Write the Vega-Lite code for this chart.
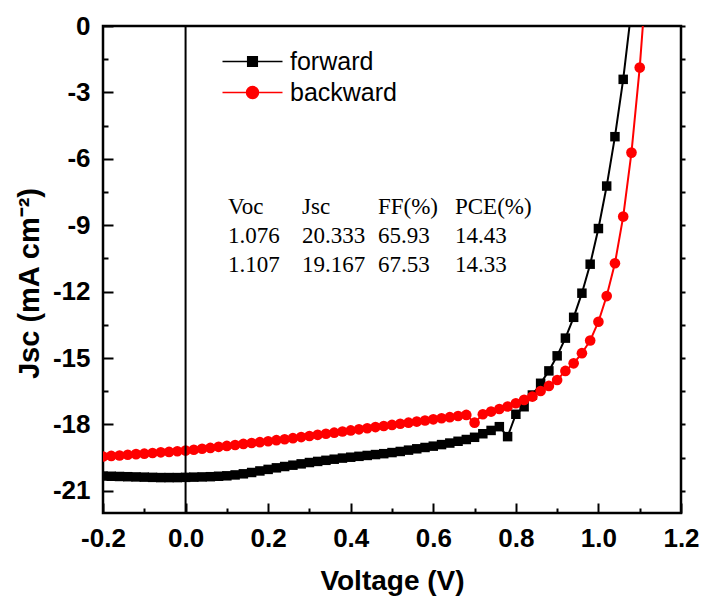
{
  "$schema": "https://vega.github.io/schema/vega-lite/v6.json",
  "width": 578,
  "height": 487,
  "autosize": {"type": "none"},
  "padding": {"left": 103, "top": 26, "right": 24, "bottom": 90},
  "background": "white",
  "config": {
    "view": {"stroke": "black", "strokeWidth": 2.5},
    "font": "Liberation Sans"
  },
  "datasets": {
    "iv": [
      {"s":"forward","V":-0.20,"J":-20.33},{"s":"forward","V":-0.18,"J":-20.34},{"s":"forward","V":-0.16,"J":-20.35},{"s":"forward","V":-0.14,"J":-20.36},{"s":"forward","V":-0.12,"J":-20.37},{"s":"forward","V":-0.10,"J":-20.38},{"s":"forward","V":-0.08,"J":-20.39},{"s":"forward","V":-0.06,"J":-20.40},{"s":"forward","V":-0.04,"J":-20.40},{"s":"forward","V":-0.02,"J":-20.40},
      {"s":"forward","V":0.00,"J":-20.39},{"s":"forward","V":0.02,"J":-20.38},{"s":"forward","V":0.04,"J":-20.37},{"s":"forward","V":0.06,"J":-20.36},{"s":"forward","V":0.08,"J":-20.34},{"s":"forward","V":0.10,"J":-20.32},{"s":"forward","V":0.12,"J":-20.28},{"s":"forward","V":0.14,"J":-20.23},{"s":"forward","V":0.16,"J":-20.17},{"s":"forward","V":0.18,"J":-20.10},
      {"s":"forward","V":0.20,"J":-20.03},{"s":"forward","V":0.22,"J":-19.96},{"s":"forward","V":0.24,"J":-19.90},{"s":"forward","V":0.26,"J":-19.84},{"s":"forward","V":0.28,"J":-19.78},{"s":"forward","V":0.30,"J":-19.72},{"s":"forward","V":0.32,"J":-19.67},{"s":"forward","V":0.34,"J":-19.62},{"s":"forward","V":0.36,"J":-19.57},{"s":"forward","V":0.38,"J":-19.52},
      {"s":"forward","V":0.40,"J":-19.48},{"s":"forward","V":0.42,"J":-19.44},{"s":"forward","V":0.44,"J":-19.40},{"s":"forward","V":0.46,"J":-19.36},{"s":"forward","V":0.48,"J":-19.32},{"s":"forward","V":0.50,"J":-19.27},{"s":"forward","V":0.52,"J":-19.22},{"s":"forward","V":0.54,"J":-19.16},{"s":"forward","V":0.56,"J":-19.10},{"s":"forward","V":0.58,"J":-19.04},
      {"s":"forward","V":0.60,"J":-18.98},{"s":"forward","V":0.62,"J":-18.91},{"s":"forward","V":0.64,"J":-18.84},{"s":"forward","V":0.66,"J":-18.76},{"s":"forward","V":0.68,"J":-18.68},{"s":"forward","V":0.70,"J":-18.58},{"s":"forward","V":0.72,"J":-18.42},{"s":"forward","V":0.74,"J":-18.27},{"s":"forward","V":0.76,"J":-18.10},{"s":"forward","V":0.78,"J":-18.55},
      {"s":"forward","V":0.80,"J":-17.54},{"s":"forward","V":0.82,"J":-17.20},{"s":"forward","V":0.84,"J":-16.67},{"s":"forward","V":0.86,"J":-16.14},{"s":"forward","V":0.88,"J":-15.58},{"s":"forward","V":0.90,"J":-14.90},{"s":"forward","V":0.92,"J":-14.10},{"s":"forward","V":0.94,"J":-13.16},{"s":"forward","V":0.96,"J":-12.07},{"s":"forward","V":0.98,"J":-10.76},
      {"s":"forward","V":1.00,"J":-9.15},{"s":"forward","V":1.02,"J":-7.23},{"s":"forward","V":1.04,"J":-5.00},{"s":"forward","V":1.06,"J":-2.41},{"s":"forward","V":1.08,"J":0.75},
      {"s":"backward","V":-0.20,"J":-19.45},{"s":"backward","V":-0.18,"J":-19.42},{"s":"backward","V":-0.16,"J":-19.40},{"s":"backward","V":-0.14,"J":-19.37},{"s":"backward","V":-0.12,"J":-19.34},{"s":"backward","V":-0.10,"J":-19.32},{"s":"backward","V":-0.08,"J":-19.29},{"s":"backward","V":-0.06,"J":-19.26},{"s":"backward","V":-0.04,"J":-19.24},{"s":"backward","V":-0.02,"J":-19.21},
      {"s":"backward","V":0.00,"J":-19.18},{"s":"backward","V":0.02,"J":-19.14},{"s":"backward","V":0.04,"J":-19.10},{"s":"backward","V":0.06,"J":-19.06},{"s":"backward","V":0.08,"J":-19.01},{"s":"backward","V":0.10,"J":-18.97},{"s":"backward","V":0.12,"J":-18.93},{"s":"backward","V":0.14,"J":-18.88},{"s":"backward","V":0.16,"J":-18.84},{"s":"backward","V":0.18,"J":-18.80},
      {"s":"backward","V":0.20,"J":-18.76},{"s":"backward","V":0.22,"J":-18.71},{"s":"backward","V":0.24,"J":-18.67},{"s":"backward","V":0.26,"J":-18.62},{"s":"backward","V":0.28,"J":-18.57},{"s":"backward","V":0.30,"J":-18.52},{"s":"backward","V":0.32,"J":-18.47},{"s":"backward","V":0.34,"J":-18.42},{"s":"backward","V":0.36,"J":-18.37},{"s":"backward","V":0.38,"J":-18.32},
      {"s":"backward","V":0.40,"J":-18.27},{"s":"backward","V":0.42,"J":-18.22},{"s":"backward","V":0.44,"J":-18.17},{"s":"backward","V":0.46,"J":-18.12},{"s":"backward","V":0.48,"J":-18.07},{"s":"backward","V":0.50,"J":-18.02},{"s":"backward","V":0.52,"J":-17.97},{"s":"backward","V":0.54,"J":-17.92},{"s":"backward","V":0.56,"J":-17.87},{"s":"backward","V":0.58,"J":-17.82},
      {"s":"backward","V":0.60,"J":-17.77},{"s":"backward","V":0.62,"J":-17.72},{"s":"backward","V":0.64,"J":-17.67},{"s":"backward","V":0.66,"J":-17.62},{"s":"backward","V":0.68,"J":-17.57},{"s":"backward","V":0.70,"J":-17.92},{"s":"backward","V":0.72,"J":-17.54},{"s":"backward","V":0.74,"J":-17.42},{"s":"backward","V":0.76,"J":-17.30},{"s":"backward","V":0.78,"J":-17.19},
      {"s":"backward","V":0.80,"J":-17.04},{"s":"backward","V":0.82,"J":-16.89},{"s":"backward","V":0.84,"J":-16.74},{"s":"backward","V":0.86,"J":-16.49},{"s":"backward","V":0.88,"J":-16.26},{"s":"backward","V":0.90,"J":-15.99},{"s":"backward","V":0.92,"J":-15.58},{"s":"backward","V":0.94,"J":-15.24},{"s":"backward","V":0.96,"J":-14.78},{"s":"backward","V":0.98,"J":-14.21},
      {"s":"backward","V":1.00,"J":-13.36},{"s":"backward","V":1.02,"J":-12.20},{"s":"backward","V":1.04,"J":-10.72},{"s":"backward","V":1.06,"J":-8.61},{"s":"backward","V":1.08,"J":-5.72},{"s":"backward","V":1.10,"J":-1.88},{"s":"backward","V":1.12,"J":3.10}
    ]
  },
  "resolve": {
    "axis": {"x": "independent", "y": "independent"},
    "scale": {"color": "independent", "shape": "independent", "size": "independent", "fill": "independent", "stroke": "independent"},
    "legend": {"fill": "independent", "stroke": "independent"}
  },
  "layer": [
    {
      "data": {"name": "iv"},
      "mark": {"type": "line", "strokeWidth": 2, "clip": true},
      "encoding": {
        "x": {
          "field": "V", "type": "quantitative",
          "scale": {"domain": [-0.2, 1.2], "nice": false, "zero": false},
          "axis": {
            "orient": "bottom",
            "values": [-0.2,0,0.2,0.4,0.6,0.8,1,1.2],
            "labelExpr": "datum.value < 0 ? '-' + format(abs(datum.value), '.1f') : format(datum.value, '.1f')",
            "tickSize": -10, "tickColor": "black", "tickWidth": 2,
            "domain": false, "grid": false,
            "labelFont": "Liberation Sans", "labelFontWeight": "bold", "labelFontSize": 26, "labelColor": "black",
            "labelPadding": 22, "labelFlush": false, "labelOverlap": false,
            "title": "Voltage (V)", "titleFont": "Liberation Sans", "titleFontSize": 28, "titleFontWeight": "bold", "titleColor": "black", "titlePadding": 16
          }
        },
        "y": {
          "field": "J", "type": "quantitative",
          "scale": {"domain": [-22, 0], "nice": false, "zero": false},
          "axis": {
            "orient": "left",
            "values": [0,-3,-6,-9,-12,-15,-18,-21],
            "labelExpr": "'' + datum.value",
            "tickSize": -10, "tickColor": "black", "tickWidth": 2,
            "domain": false, "grid": false,
            "labelFont": "Liberation Sans", "labelFontWeight": "bold", "labelFontSize": 26, "labelColor": "black",
            "labelPadding": 23, "labelFlush": false, "labelOverlap": false,
            "title": "Jsc (mA cm⁻²)", "titleFont": "Liberation Sans", "titleFontSize": 29, "titleFontWeight": "bold", "titleColor": "black", "titlePadding": 8, "titleY": 257
          }
        },
        "color": {"field": "s", "type": "nominal", "scale": {"domain": ["forward", "backward"], "range": ["#000000", "#ff0000"]}, "legend": null},
        "detail": {"field": "s"}
      }
    },
    {
      "data": {"name": "iv"},
      "mark": {"type": "point", "filled": true, "opacity": 1, "clip": true},
      "encoding": {
        "x": {
          "field": "V", "type": "quantitative",
          "axis": {
            "orient": "bottom",
            "values": [-0.1,0.1,0.3,0.5,0.7,0.9,1.1],
            "labels": false, "domain": false, "grid": false, "title": null,
            "tickSize": -5, "tickColor": "black", "tickWidth": 2
          }
        },
        "y": {
          "field": "J", "type": "quantitative",
          "axis": {
            "orient": "right",
            "values": [0,-1.5,-3,-4.5,-6,-7.5,-9,-10.5,-12,-13.5,-15,-16.5,-18,-19.5,-21],
            "labels": false, "domain": false, "grid": false, "title": null,
            "tickSize": 4, "tickColor": "black", "tickWidth": 2
          }
        },
        "color": {"field": "s", "type": "nominal", "scale": {"domain": ["forward", "backward"], "range": ["#000000", "#ff0000"]}, "legend": null},
        "shape": {"field": "s", "type": "nominal", "scale": {"domain": ["forward", "backward"], "range": ["square", "circle"]}, "legend": null},
        "size": {"field": "s", "type": "nominal", "scale": {"domain": ["forward", "backward"], "range": [90, 113]}, "legend": null}
      }
    },
    {
      "data": {"values": [{}]},
      "mark": {"type": "rule", "color": "black", "strokeWidth": 2},
      "encoding": {"x": {"datum": 0, "type": "quantitative", "axis": null}}
    },
    {
      "data": {"values": [{}]},
      "mark": {"type": "text", "align": "left", "baseline": "middle", "font": "Liberation Serif", "fontSize": 23, "lineHeight": 29, "color": "black", "text": ["Voc", "1.076", "1.107"]},
      "encoding": {
        "x": {"datum": 0.103, "type": "quantitative", "axis": null},
        "y": {
          "datum": -8.18, "type": "quantitative",
          "axis": {
            "orient": "left",
            "values": [-1.5,-4.5,-7.5,-10.5,-13.5,-16.5,-19.5],
            "labels": false, "domain": false, "grid": false, "title": null,
            "tickSize": -5, "tickColor": "black", "tickWidth": 2
          }
        }
      }
    },
    {
      "data": {"values": [{}]},
      "mark": {"type": "text", "align": "left", "baseline": "middle", "font": "Liberation Serif", "fontSize": 23, "lineHeight": 29, "color": "black", "text": ["Jsc", "20.333", "19.167"]},
      "encoding": {"x": {"datum": 0.282, "type": "quantitative", "axis": null}, "y": {"datum": -8.18, "type": "quantitative", "axis": null}}
    },
    {
      "data": {"values": [{}]},
      "mark": {"type": "text", "align": "left", "baseline": "middle", "font": "Liberation Serif", "fontSize": 23, "lineHeight": 29, "color": "black", "text": ["FF(%)", "65.93", "67.53"]},
      "encoding": {"x": {"datum": 0.466, "type": "quantitative", "axis": null}, "y": {"datum": -8.18, "type": "quantitative", "axis": null}}
    },
    {
      "data": {"values": [{}]},
      "mark": {"type": "text", "align": "left", "baseline": "middle", "font": "Liberation Serif", "fontSize": 23, "lineHeight": 29, "color": "black", "text": ["PCE(%)", "14.43", "14.33"]},
      "encoding": {"x": {"datum": 0.6525, "type": "quantitative", "axis": null}, "y": {"datum": -8.18, "type": "quantitative", "axis": null}}
    },
    {
      "data": {"name": "iv"},
      "transform": [{"filter": "datum.V > 10"}],
      "mark": {"type": "point", "opacity": 1, "strokeWidth": 1.5},
      "encoding": {
        "x": {"field": "V", "type": "quantitative", "axis": null},
        "y": {"field": "J", "type": "quantitative", "axis": null},
        "fill": {
          "field": "s", "type": "nominal",
          "scale": {"domain": ["forward"], "range": ["#000000"]},
          "legend": {"orient": "none", "legendX": 137, "legendY": 23, "title": null, "padding": 0, "symbolType": "M-5,0H5M-0.8,-0.8H0.8V0.8H-0.8Z", "symbolSize": 144, "symbolStrokeWidth": 1.5, "labelOffset": 25, "labelFont": "Liberation Sans", "labelFontSize": 25, "labelColor": "black"}
        },
        "stroke": {
          "field": "s", "type": "nominal",
          "scale": {"domain": ["forward"], "range": ["#000000"]},
          "legend": {"orient": "none", "legendX": 137, "legendY": 23, "title": null, "padding": 0, "symbolType": "M-5,0H5M-0.8,-0.8H0.8V0.8H-0.8Z", "symbolSize": 144, "symbolStrokeWidth": 1.5, "labelOffset": 25, "labelFont": "Liberation Sans", "labelFontSize": 25, "labelColor": "black"}
        }
      }
    },
    {
      "data": {"name": "iv"},
      "transform": [{"filter": "datum.V > 10"}],
      "mark": {"type": "point", "opacity": 1, "strokeWidth": 1.5},
      "encoding": {
        "x": {"field": "V", "type": "quantitative", "axis": null},
        "y": {"field": "J", "type": "quantitative", "axis": null},
        "fill": {
          "field": "s", "type": "nominal",
          "scale": {"domain": ["backward"], "range": ["#ff0000"]},
          "legend": {"orient": "none", "legendX": 137, "legendY": 54, "title": null, "padding": 0, "symbolType": "M-5,0H5M1,0A1,1,0,1,1,-1,0A1,1,0,1,1,1,0Z", "symbolSize": 144, "symbolStrokeWidth": 1.5, "labelOffset": 25, "labelFont": "Liberation Sans", "labelFontSize": 25, "labelColor": "black"}
        },
        "stroke": {
          "field": "s", "type": "nominal",
          "scale": {"domain": ["backward"], "range": ["#ff0000"]},
          "legend": {"orient": "none", "legendX": 137, "legendY": 54, "title": null, "padding": 0, "symbolType": "M-5,0H5M1,0A1,1,0,1,1,-1,0A1,1,0,1,1,1,0Z", "symbolSize": 144, "symbolStrokeWidth": 1.5, "labelOffset": 25, "labelFont": "Liberation Sans", "labelFontSize": 25, "labelColor": "black"}
        }
      }
    }
  ]
}
